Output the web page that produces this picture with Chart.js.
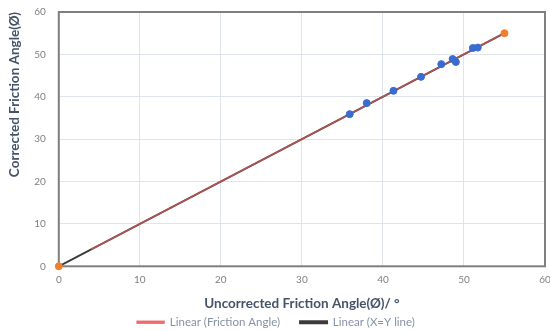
<!DOCTYPE html>
<html lang="en">
<head>
    <meta charset="UTF-8">
    <title>Corrected vs Uncorrected Friction Angle</title>
    <script src="https://cdn.jsdelivr.net/npm/chart.js"></script>
    <style>
        html, body { margin: 0; padding: 0; background: #fff; }
        #wrap { width: 550px; height: 331px; }
    </style>
</head>
<body>
    <div id="wrap"><canvas id="frictionChart"></canvas></div>

    <script>
        // test results
        const uncorrectedAngle = [35.9, 38.0, 41.3, 44.7, 47.2, 48.6, 49.0, 51.1, 51.7];
        const correctedAngle = [35.9, 38.5, 41.4, 44.7, 47.7, 48.9, 48.2, 51.5, 51.6];
        // orange end markers
        const endX = [0, 55];
        const endY = [0, 55];
        // linear trendline of the friction angle series
        const trendX = [4, 55];
        const trendY = [4, 55];
        // X = Y reference line
        const xyLineX = [0, 55];
        const xyLineY = [0, 55];
        const axisTicks = [0, 10, 20, 30, 40, 50, 60];

        const toPoints = (xs, ys) => xs.map((x, i) => ({ x: x, y: ys[i] }));

        // plot frame drawn round the chart area, under the data
        const frame = {
            id: 'frame',
            beforeDatasetsDraw(chart) {
                const a = chart.chartArea;
                const ctx = chart.ctx;
                ctx.save();
                ctx.strokeStyle = '#7f7f7f';
                ctx.lineWidth = 2;
                ctx.strokeRect(a.left, a.top, a.right - a.left, a.bottom - a.top);
                ctx.restore();
            }
        };

        const ctx = document.getElementById('frictionChart').getContext('2d');
        new Chart(ctx, {
            type: 'scatter',
            data: {
                datasets: [
                    {
                        label: 'Linear (Friction Angle)',
                        data: toPoints(trendX, trendY),
                        showLine: true,
                        borderColor: 'rgba(235, 90, 90, 0.75)',
                        backgroundColor: 'rgba(245, 120, 120, 1)',
                        borderWidth: 1.5,
                        pointRadius: 0,
                        order: 1
                    },
                    {
                        label: 'Linear (X=Y line)',
                        data: toPoints(xyLineX, xyLineY),
                        showLine: true,
                        borderColor: '#3a3a3a',
                        backgroundColor: '#595959',
                        borderWidth: 2,
                        pointRadius: 0,
                        order: 2
                    },
                    {
                        label: 'Friction Angle',
                        data: toPoints(uncorrectedAngle, correctedAngle),
                        backgroundColor: '#3a6cd0',
                        borderColor: '#3a6cd0',
                        pointRadius: 3.5,
                        order: 0
                    },
                    {
                        label: 'X=Y line',
                        data: toPoints(endX, endY),
                        backgroundColor: '#f07f2a',
                        borderColor: '#f07f2a',
                        pointRadius: 3.5,
                        clip: false,
                        order: 0
                    }
                ]
            },
            options: {
                responsive: true,
                maintainAspectRatio: false,
                animation: false,
                layout: { padding: { top: 12, right: 5, left: 7, bottom: -7 } },
                scales: {
                    x: {
                        type: 'linear',
                        min: 0,
                        max: 60,
                        afterBuildTicks: axis => { axis.ticks = axisTicks.map(v => ({ value: v })); },
                        // let the last label hang over the edge like the original
                        afterFit: axis => { axis.paddingRight = 0; axis.paddingLeft = 0; },
                        grid: { color: '#dfe4ea', lineWidth: 1, drawTicks: false, tickLength: 0 },
                        border: { display: false },
                        ticks: { color: '#7f7f7f', font: { family: 'Lato', size: 10 }, padding: 7 },
                        title: {
                            display: true,
                            text: 'Uncorrected Friction Angle(Ø)/ °',
                            color: '#44546a',
                            font: { family: 'Lato', size: 13.5, weight: 'bold' },
                            padding: { top: 3, bottom: -15 }
                        }
                    },
                    y: {
                        type: 'linear',
                        min: 0,
                        max: 60,
                        afterBuildTicks: axis => { axis.ticks = axisTicks.map(v => ({ value: v })); },
                        afterFit: axis => { axis.paddingTop = 0; axis.paddingBottom = 0; },
                        grid: { color: '#dfe4ea', lineWidth: 1, drawTicks: false, tickLength: 0 },
                        border: { display: false },
                        ticks: { color: '#7f7f7f', font: { family: 'Lato', size: 10 }, padding: 13 },
                        title: {
                            display: true,
                            text: 'Corrected Friction Angle(Ø)',
                            align: 'end',
                            color: '#44546a',
                            font: { family: 'Lato', size: 13.5, weight: 'bold' },
                            padding: { top: 0, bottom: -2 }
                        }
                    }
                },
                plugins: {
                    legend: {
                        position: 'bottom',
                        labels: {
                            filter: item => item.text.startsWith('Linear'),
                            boxWidth: 27,
                            boxHeight: 2,
                            color: '#8592a3',
                            font: { family: 'Lato', size: 11.5 },
                            padding: 20
                        }
                    },
                    tooltip: { enabled: false }
                }
            },
            plugins: [frame]
        });
    </script>
</body>
</html>
